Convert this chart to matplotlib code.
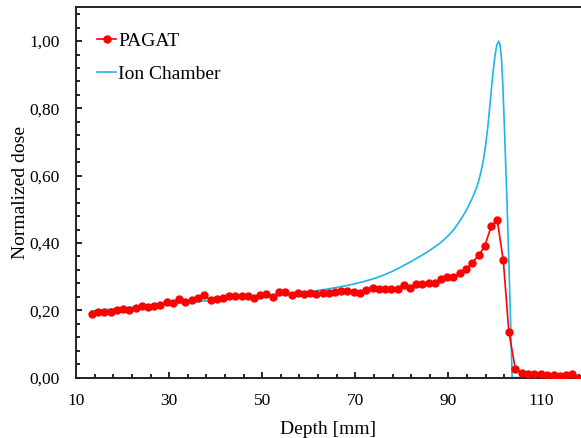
import matplotlib.pyplot as plt
from matplotlib.ticker import MultipleLocator, FuncFormatter

# PAGAT gel measurement (depth in mm, normalized dose)
pagat_depth = [13.4, 14.7, 16.1, 17.4, 18.8, 20.1, 21.4, 22.8, 24.1, 25.5,
               26.8, 28.1, 29.5, 30.8, 32.2, 33.5, 34.8, 36.2, 37.5, 38.9,
               40.2, 41.5, 42.9, 44.2, 45.6, 46.9, 48.2, 49.6, 50.9, 52.3,
               53.6, 54.9, 56.3, 57.6, 59.0, 60.3, 61.6, 63.0, 64.3, 65.7,
               67.0, 68.3, 69.7, 71.0, 72.4, 73.7, 75.0, 76.4, 77.7, 79.1,
               80.4, 81.7, 83.1, 84.4, 85.8, 87.1, 88.4, 89.8, 91.1, 92.5,
               93.8, 95.1, 96.5, 97.8, 99.2, 100.5, 101.8, 103.0, 104.4, 105.9,
               107.2, 108.5, 109.9, 111.2, 112.6, 113.9, 115.2, 116.6, 117.9]
pagat_dose = [0.189, 0.194, 0.194, 0.194, 0.200, 0.204, 0.200, 0.206, 0.213, 0.209,
              0.213, 0.217, 0.225, 0.221, 0.232, 0.225, 0.231, 0.236, 0.244, 0.231,
              0.233, 0.236, 0.243, 0.241, 0.243, 0.243, 0.235, 0.245, 0.249, 0.239,
              0.254, 0.253, 0.245, 0.251, 0.248, 0.251, 0.249, 0.252, 0.250, 0.255,
              0.258, 0.258, 0.255, 0.250, 0.259, 0.267, 0.263, 0.263, 0.263, 0.263,
              0.275, 0.265, 0.278, 0.278, 0.280, 0.282, 0.292, 0.300, 0.300, 0.310,
              0.323, 0.341, 0.363, 0.391, 0.449, 0.468, 0.348, 0.135, 0.025, 0.015,
              0.011, 0.010, 0.010, 0.007, 0.007, 0.004, 0.009, 0.010, 0.000]

ic_depth = [13.5, 20, 30, 40, 50, 56, 60, 62, 64, 66, 68, 70, 72, 74, 76, 78,
            80, 82, 84, 86, 88, 89, 90, 91, 92, 93, 94, 95, 96, 96.5, 97, 97.5,
            98, 98.5, 99, 99.5, 100, 100.4, 100.8, 101.1, 101.4, 101.7, 102.0,
            102.3, 102.7, 103.0, 103.3, 103.7, 110, 118.5]
ic_dose = [0.198, 0.207, 0.219, 0.230, 0.242, 0.249, 0.255, 0.259, 0.263, 0.268,
           0.273, 0.279, 0.286, 0.294, 0.304, 0.316, 0.330, 0.345, 0.361, 0.378,
           0.397, 0.409, 0.422, 0.437, 0.456, 0.477, 0.501, 0.529, 0.562, 0.584,
           0.611, 0.645, 0.690, 0.748, 0.820, 0.895, 0.955, 0.988, 1.000, 0.990,
           0.950, 0.870, 0.760, 0.640, 0.480, 0.340, 0.200, 0.000, 0.000, 0.000]

plt.rcParams['font.family'] = ['Liberation Serif', 'DejaVu Serif']

fig = plt.figure(figsize=(5.81, 4.38), dpi=100)
ax = fig.add_axes([0.131, 0.138, 0.869, 0.845])

ax.plot(pagat_depth, pagat_dose, color='#ff0000', marker='o', markersize=5,
        linewidth=1.2, label='PAGAT', zorder=3)
ax.plot(ic_depth, ic_dose, color='#1eb4ec', linewidth=1.2, label='Ion Chamber', zorder=2)

ax.set_xlim(10, 118.5)
ax.set_ylim(0, 1.1)
ax.set_xticks([10, 30, 50, 70, 90, 110])
ax.xaxis.set_minor_locator(MultipleLocator(4, offset=2))
ax.set_yticks([0, 0.2, 0.4, 0.6, 0.8, 1.0])
ax.yaxis.set_minor_locator(MultipleLocator(0.04))
ax.yaxis.set_major_formatter(FuncFormatter(lambda v, p: f'{v:.2f}'.replace('.', ',')))

ax.tick_params(which='major', direction='in', length=4.5, width=1.2, labelsize=12.5)
ax.tick_params(axis='x', which='major', pad=11)
ax.tick_params(axis='y', which='major', pad=12)
ax.tick_params(which='minor', direction='in', length=3, width=1.2)
for side in ['left', 'bottom', 'top']:
    ax.spines[side].set_linewidth(1.4)
    ax.spines[side].set_color('#222222')
ax.spines['right'].set_visible(False)

ax.set_xlabel('Depth [mm]', fontsize=14, labelpad=9)
ax.set_ylabel('Normalized dose', fontsize=14, labelpad=0)

ax.legend(loc='upper left', frameon=False, fontsize=14, handlelength=1.0,
          handletextpad=0.1, labelspacing=0.8, borderaxespad=0.2,
          bbox_to_anchor=(0.018, 0.965))

fig.savefig('out.png', dpi=100)
